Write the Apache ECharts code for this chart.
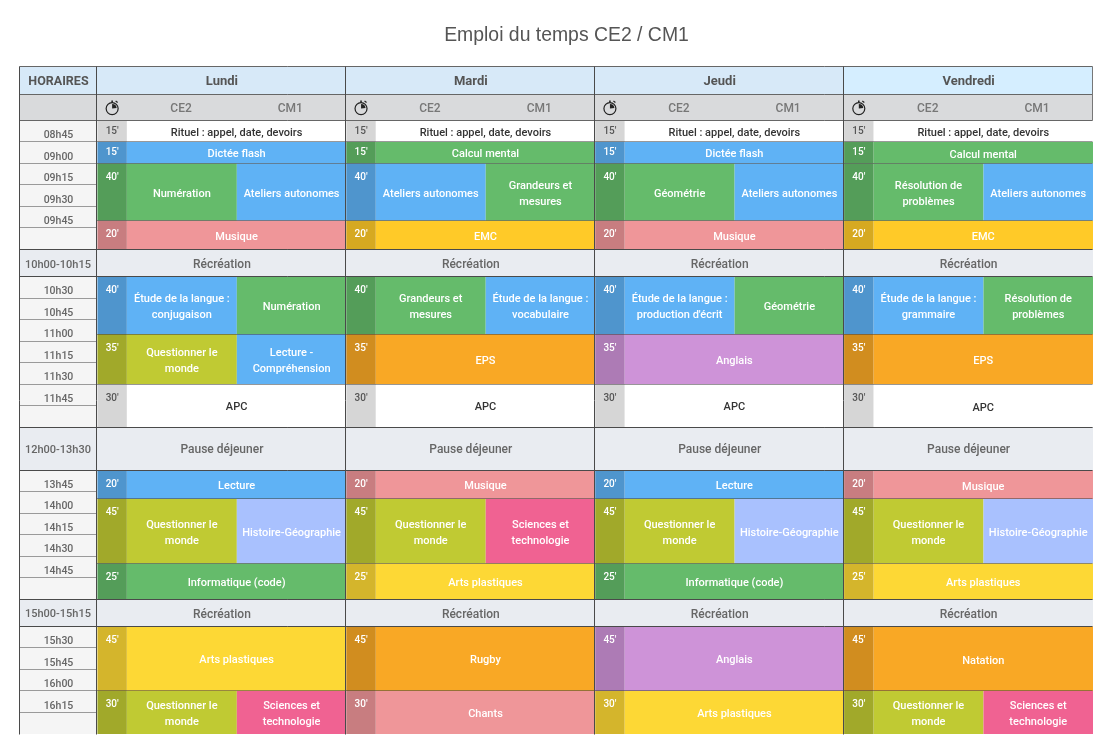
<!DOCTYPE html>
<html>
<head>
<meta charset="utf-8">
<style>html,body{margin:0;padding:0;background:#fff}#chart{width:1111px;height:752px}</style>
<script src="https://cdn.jsdelivr.net/npm/echarts@6/dist/echarts.min.js"></script>
</head>
<body>
<div id="chart"></div>
<script>
var days = ['Lundi', 'Mardi', 'Jeudi', 'Vendredi'];
var title = 'Emploi du temps CE2 / CM1';

// length of each lesson, one list per block between two breaks
var slotMinutes = [[15, 15, 40, 20], [40, 35, 30], [20, 45, 25], [45, 30]];
var breakNames = ['Récréation', 'Pause déjeuner', 'Récréation'];
var breakTimes = ['10h00-10h15', '12h00-13h30', '15h00-15h15'];
var breakMinutes = [19, 30, 19];
var timeLabels = [
    ['08h45', '09h00', '09h15', '09h30', '09h45', ''],
    ['10h30', '10h45', '11h00', '11h15', '11h30', '11h45', ''],
    ['13h45', '14h00', '14h15', '14h30', '14h45', ''],
    ['15h30', '15h45', '16h00', '16h15', '']
];

var RITUEL = 'Rituel : appel, date, devoirs';
var QLM = 'Questionner le\nmonde';
var SCI = 'Sciences et\ntechnologie';
var HG = 'Histoire-Géographie';
var AA = 'Ateliers autonomes';
var GM = 'Grandeurs et\nmesures';
var RP = 'Résolution de\nproblèmes';
var INFO = 'Informatique (code)';
var ARTS = 'Arts plastiques';

var lundiCE2 = [RITUEL, 'Dictée flash', 'Numération', 'Musique', 'Étude de la langue :\nconjugaison', QLM, 'APC', 'Lecture', QLM, INFO, ARTS, QLM];
var lundiCM1 = [RITUEL, 'Dictée flash', AA, 'Musique', 'Numération', 'Lecture -\nCompréhension', 'APC', 'Lecture', HG, INFO, ARTS, SCI];
var mardiCE2 = [RITUEL, 'Calcul mental', AA, 'EMC', GM, 'EPS', 'APC', 'Musique', QLM, ARTS, 'Rugby', 'Chants'];
var mardiCM1 = [RITUEL, 'Calcul mental', GM, 'EMC', 'Étude de la langue :\nvocabulaire', 'EPS', 'APC', 'Musique', SCI, ARTS, 'Rugby', 'Chants'];
var jeudiCE2 = [RITUEL, 'Dictée flash', 'Géométrie', 'Musique', "Étude de la langue :\nproduction d'écrit", 'Anglais', 'APC', 'Lecture', QLM, INFO, 'Anglais', ARTS];
var jeudiCM1 = [RITUEL, 'Dictée flash', AA, 'Musique', 'Géométrie', 'Anglais', 'APC', 'Lecture', HG, INFO, 'Anglais', ARTS];
var vendrediCE2 = [RITUEL, 'Calcul mental', RP, 'EMC', 'Étude de la langue :\ngrammaire', 'EPS', 'APC', 'Musique', QLM, ARTS, 'Natation', QLM];
var vendrediCM1 = [RITUEL, 'Calcul mental', AA, 'EMC', RP, 'EPS', 'APC', 'Musique', HG, ARTS, 'Natation', SCI];
var ce2ByDay = [lundiCE2, mardiCE2, jeudiCE2, vendrediCE2];
var cm1ByDay = [lundiCM1, mardiCM1, jeudiCM1, vendrediCM1];

var BLUE = '#5fb2f5', GREEN = '#65bb6b', PINK = '#ef9699', ORANGE = '#f9a825', PURPLE = '#ce93d8';
var LIME = '#c0ca33', YELLOW = '#fdd835';
var subjectColors = {};
[RITUEL, 'APC'].forEach(function (s) { subjectColors[s] = '#ffffff'; });
['Dictée flash', AA, 'Lecture', 'Lecture -\nCompréhension', 'Étude de la langue :\nconjugaison', 'Étude de la langue :\nvocabulaire',
    "Étude de la langue :\nproduction d'écrit", 'Étude de la langue :\ngrammaire'].forEach(function (s) { subjectColors[s] = BLUE; });
['Calcul mental', 'Numération', GM, RP, 'Géométrie', INFO].forEach(function (s) { subjectColors[s] = GREEN; });
['Musique', 'Chants'].forEach(function (s) { subjectColors[s] = PINK; });
['EPS', 'Rugby', 'Natation'].forEach(function (s) { subjectColors[s] = ORANGE; });
subjectColors['EMC'] = '#ffca28';
subjectColors['Anglais'] = PURPLE;
subjectColors[QLM] = LIME;
subjectColors[HG] = '#a9c1fe';
subjectColors[SCI] = '#f06292';
subjectColors[ARTS] = YELLOW;

// x axis: one unit per day, time column sits left of 0
var TIME_W = 78 / 249, DUR_W = 0.118, SPLIT = 0.56;
// y axis: minutes of table height, header rows sit above 0
var HEAD_TOP = -38, SUB_TOP = -18;

var FONT = 'Roboto, sans-serif';
var LINE = '#4a4a4a', SOFT = 'rgba(70,70,70,.55)';
var TEXT_DY = 1.7;

// flatten the schedule into draw items
var items = [];
function rect(x0, x1, y0, y1, fill) { items.push({ t: 'rect', x0: x0, x1: x1, y0: y0, y1: y1, fill: fill }); }
function line(x0, x1, y0, y1, color, w) { items.push({ t: 'line', x0: x0, x1: x1, y0: y0, y1: y1, color: color, w: w || 1 }); }
function label(x, y, text, color, weight, size, dy) { items.push({ t: 'text', x: x, y: y, text: text, color: color, weight: weight, size: size, dy: dy || 0 }); }

var total = 0;
var slotIndex = 0;
var lastX = days.length;
var lastBlock = slotMinutes.length - 1;
slotMinutes.forEach(function (block, b) {
    timeLabels[b].forEach(function (t, r) {
        var top = total + r * 15;
        rect(-TIME_W, 0, top, top + 15, '#f5f5f5');
        if (b < lastBlock || r < timeLabels[b].length - 1) line(-TIME_W, 0, top + 15, top + 15, '#9a9a9a');
        if (t) label(-TIME_W / 2, top, t, '#666', 500, 10.5, 15);
    });
    block.forEach(function (mins, s) {
        days.forEach(function (d, i) {
            var a = ce2ByDay[i][slotIndex], c = cm1ByDay[i][slotIndex];
            var left = i + DUR_W, mid = i + SPLIT, right = i + 1;
            var same = a === c;
            rect(left, same ? right : mid, total, total + mins, subjectColors[a]);
            if (!same) rect(mid, right, total, total + mins, subjectColors[c]);
            rect(i, left, total, total + mins, subjectColors[a]);
            rect(i, left, total, total + mins, 'rgba(0,0,0,.16)');
            var ink = subjectColors[a] === '#ffffff' ? '#333' : '#fff';
            var durInk = subjectColors[a] === '#ffffff' ? '#555' : '#fff';
            var cy = total + mins / 2;
            var shift = i === 3 ? TEXT_DY + 0.5 : TEXT_DY;
            if (same) {
                label((left + right) / 2, cy, a, ink, 500, 11, shift);
            } else {
                label((left + mid) / 2, cy, a, ink, 500, 11, shift);
                label((mid + right) / 2, cy, c, ink, 500, 11, shift);
            }
            label(i + DUR_W / 2, total, mins + "'", durInk, 500, 10, mins > 15 ? 14 : 11);
            if (b < lastBlock || s < block.length - 1) line(i, right, total + mins, total + mins, SOFT);
        });
        total += mins;
        slotIndex++;
    });
    if (b < breakNames.length) {
        var h = breakMinutes[b];
        rect(-TIME_W, lastX, total, total + h, '#e9ecf1');
        label(-TIME_W / 2 - 0.002, total + h / 2, breakTimes[b], '#666', 500, 11, TEXT_DY);
        days.forEach(function (d, i) { label(i + 0.5, total + h / 2, breakNames[b], '#666', 500, 12, TEXT_DY); });
        line(-TIME_W, lastX, total, total, LINE);
        line(-TIME_W, lastX, total + h, total + h, LINE);
        total += h;
    }
});

// header rows
rect(-TIME_W, lastX, HEAD_TOP, SUB_TOP, '#d7e9f8');
rect(3, lastX, HEAD_TOP, SUB_TOP, '#d5eeff');
rect(-TIME_W, lastX, SUB_TOP, 0, '#d9dadc');
label(-TIME_W / 2, (HEAD_TOP + SUB_TOP) / 2, 'HORAIRES', '#555', 700, 12.5, TEXT_DY);
days.forEach(function (d, i) {
    label(i + 0.5, (HEAD_TOP + SUB_TOP) / 2, d, '#555', 700, 13, TEXT_DY);
    label(i + DUR_W + (SPLIT - DUR_W) / 2 - 0.003, SUB_TOP / 2, 'CE2', '#777', 500, 12, TEXT_DY);
    label(i + SPLIT + (1 - SPLIT) / 2 - 0.005, SUB_TOP / 2, 'CM1', '#777', 500, 12, TEXT_DY);
    items.push({ t: 'watch', x: i + DUR_W / 2, y: SUB_TOP / 2 });
});
line(-TIME_W, lastX, HEAD_TOP, HEAD_TOP, '#666');
line(-TIME_W, lastX, SUB_TOP, SUB_TOP, '#666');
line(-TIME_W, lastX, 0, 0, '#666');
line(lastX, lastX, HEAD_TOP, 0, '#777');
line(-TIME_W, -TIME_W, HEAD_TOP, total, LINE);
for (var d = 0; d < days.length; d++) line(d, d, HEAD_TOP, total, LINE);

function crispX(v) { return Math.floor(v - 0.5) + 0.5; }
function crispY(v) { return Math.round(v - 0.5) + 0.5; }

function renderItem(params, api) {
    var it = items[params.dataIndex];
    if (it.t === 'rect') {
        var p0 = api.coord([it.x0, it.y0]), p1 = api.coord([it.x1, it.y1]);
        return { type: 'rect', shape: { x: p0[0], y: p0[1], width: p1[0] - p0[0], height: p1[1] - p0[1] }, style: { fill: it.fill } };
    }
    if (it.t === 'line') {
        var a = api.coord([it.x0, it.y0]), b = api.coord([it.x1, it.y1]);
        return { type: 'line', z2: 5, shape: { x1: crispX(a[0]), y1: crispY(a[1]), x2: crispX(b[0]), y2: crispY(b[1]) }, style: { stroke: it.color, lineWidth: it.w } };
    }
    if (it.t === 'text') {
        var p = api.coord([it.x, it.y]);
        return {
            type: 'text', z2: 10, x: p[0], y: p[1] + it.dy,
            style: { text: it.text, fill: it.color, align: 'center', verticalAlign: 'middle', lineHeight: 16, font: it.weight + ' ' + it.size + 'px ' + FONT }
        };
    }
    var c = api.coord([it.x, it.y]);
    var cx = c[0], cy = c[1] + 1;
    return {
        type: 'group', z2: 10, children: [
            { type: 'circle', shape: { cx: cx, cy: cy, r: 6 }, style: { fill: 'none', stroke: '#222', lineWidth: 1.2 } },
            { type: 'sector', shape: { cx: cx, cy: cy, r: 4.5, r0: 0, startAngle: -Math.PI / 2, endAngle: -0.1 }, style: { fill: '#222' } },
            { type: 'line', shape: { x1: cx, y1: cy - 6, x2: cx, y2: cy - 8 }, style: { stroke: '#222', lineWidth: 1.6 } },
            { type: 'line', shape: { x1: cx + 3.5, y1: cy - 7.5, x2: cx + 5.5, y2: cy - 6 }, style: { stroke: '#222', lineWidth: 1.2 } }
        ]
    };
}

var myChart = echarts.init(document.getElementById('chart'), null, { renderer: 'canvas' });
myChart.setOption({
    animation: false,
    title: {
        text: title, left: 561.5, top: 21, textAlign: 'center',
        textStyle: { fontFamily: '"Liberation Sans", Arial, sans-serif', fontSize: 19.4, fontWeight: 'normal', color: '#555' }
    },
    tooltip: { show: false },
    grid: { left: 19.5, top: 66, width: 1073.5, height: 668 },
    xAxis: { type: 'value', min: -TIME_W, max: days.length, show: false },
    yAxis: { type: 'value', min: HEAD_TOP, max: total, inverse: true, show: false },
    series: [{
        type: 'custom',
        coordinateSystem: 'cartesian2d',
        clip: false,
        silent: true,
        renderItem: renderItem,
        data: items.map(function (it, i) { return [i]; })
    }]
});
</script>
</body>
</html>
